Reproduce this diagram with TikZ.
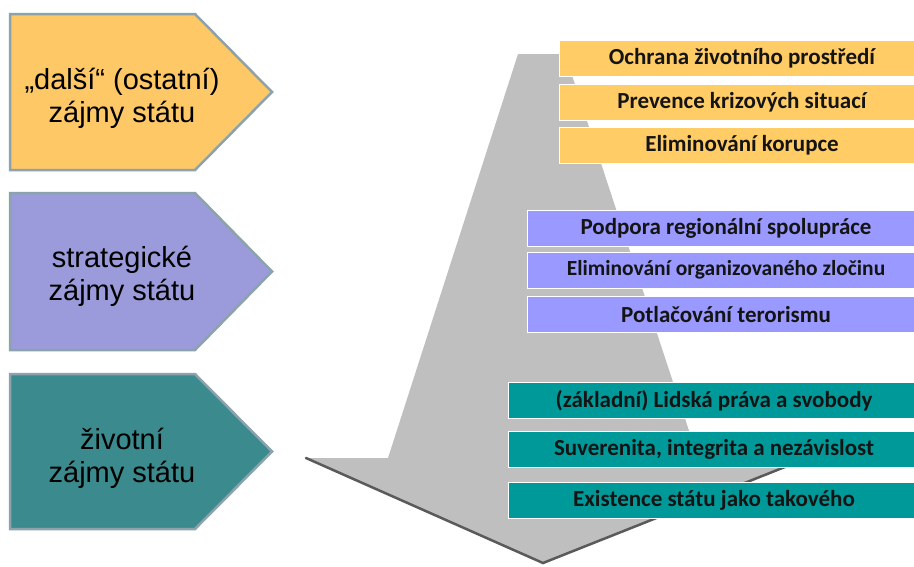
\documentclass[tikz,border=0pt]{standalone}
\usepackage{fontspec}
\setmainfont{Liberation Sans}
\newfontfamily\calfont{Carlito}
\definecolor{lyel}{RGB}{254,200,102}
\definecolor{lpur}{RGB}{155,155,219}
\definecolor{ltea}{RGB}{59,138,141}
\definecolor{lbord}{RGB}{140,162,172}
\definecolor{ryel}{RGB}{255,204,102}
\definecolor{rpur}{RGB}{153,153,255}
\definecolor{rtea}{RGB}{0,153,153}
\definecolor{agray}{RGB}{191,191,191}
\definecolor{adark}{RGB}{90,90,90}
\tikzset{
  lshape/.style={draw=lbord, line width=2.5pt, line join=miter},
  ltext/.style={align=center, font=\fontsize{29}{33}\selectfont, text=black},
  rbox/.style={draw=white, line width=1pt, minimum height=36pt, inner sep=0pt,
    font=\calfont\bfseries\fontsize{23}{27}\selectfont, text=black!92},
  ybox/.style={rbox, fill=ryel, minimum width=366pt},
  pbox/.style={rbox, fill=rpur, minimum width=398pt},
  tbox/.style={rbox, fill=rtea, minimum width=412pt},
}
\begin{document}
\begin{tikzpicture}[x=1pt,y=-1pt]
\useasboundingbox[fill=white] (0,0) rectangle (914,566);

% big gray arrow
\fill[agray] (518,54) -- (565,54) -- (699,461) -- (800,461) -- (543,563)
  -- (306,458) -- (388,458) -- cycle;
\coordinate (hl) at (306,458);
\coordinate (tip) at (543,563);
\coordinate (hr) at (800,461);
\draw[adark, line width=2.5pt, line cap=round] (hl) -- (tip) -- (hr);

% left pentagons
\draw[lshape, fill=lyel] (10,14) -- (195,14) -- (272,92) -- (195,170) -- (10,170) -- cycle;
\node[ltext] (l1) at (122,98) {„další“ (ostatní)\\zájmy státu};
\draw[lshape, fill=lpur] (10,193) -- (195,193) -- (272,271.5) -- (195,350) -- (10,350) -- cycle;
\node[ltext] (l2) at (122,276.5) {strategické\\zájmy státu};
\draw[lshape, fill=ltea] (10,374) -- (195,374) -- (272,451.5) -- (195,529) -- (10,529) -- cycle;
\node[ltext] (l3) at (122,458) {životní\\zájmy státu};

% right boxes
\node[ybox] (y1) at (742,58) {Ochrana životního prostředí};
\node[ybox] (y2) at (742,102.5) {Prevence krizových situací};
\node[ybox] (y3) at (742,145.5) {Eliminování korupce};

\node[pbox] (p1) at (726,228) {Podpora regionální spolupráce};
\node[pbox, font=\calfont\bfseries\fontsize{21.5}{25}\selectfont] (p2) at (726,270) {Eliminování organizovaného zločinu};
\node[pbox] (p3) at (726,314.5) {Potlačování terorismu};

\node[tbox] (t1) at (714,400.5) {(základní) Lidská práva a svobody};
\node[tbox] (t2) at (714,449.5) {Suverenita, integrita a nezávislost};
\node[tbox] (t3) at (714,500) {Existence státu jako takového};
\end{tikzpicture}
\end{document}
